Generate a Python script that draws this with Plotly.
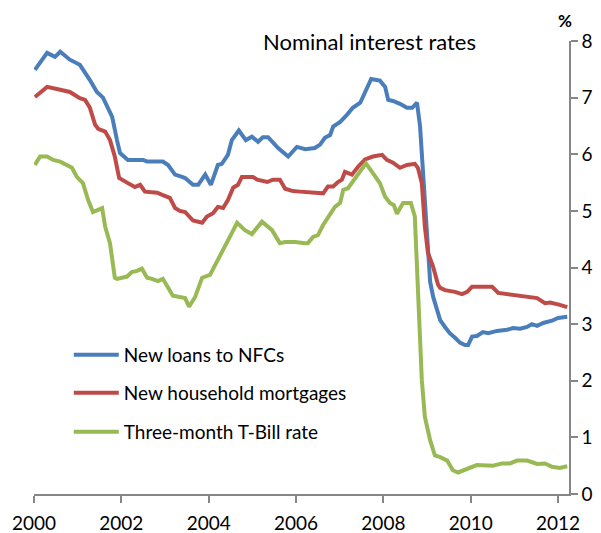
import plotly.graph_objects as go

# ---- data (decimal years, percent) ----
nfc_x = [2000.02, 2000.30, 2000.48, 2000.60, 2000.82, 2001.05, 2001.28, 2001.44, 2001.58, 2001.79,
         2001.90, 2001.97, 2002.15, 2002.50, 2002.59, 2002.95, 2003.07, 2003.23, 2003.39, 2003.46,
         2003.64, 2003.76, 2003.92, 2004.05, 2004.21, 2004.30, 2004.44, 2004.53, 2004.69, 2004.85,
         2004.99, 2005.13, 2005.24, 2005.36, 2005.59, 2005.82, 2006.02, 2006.21, 2006.43, 2006.55,
         2006.66, 2006.78, 2006.85, 2007.01, 2007.17, 2007.30, 2007.47, 2007.58, 2007.65, 2007.72,
         2007.92, 2008.04, 2008.11, 2008.22, 2008.38, 2008.54, 2008.66, 2008.77, 2008.84, 2008.91,
         2009.00, 2009.07, 2009.14, 2009.18, 2009.30, 2009.41, 2009.52, 2009.64, 2009.76, 2009.87,
         2009.94, 2010.03, 2010.14, 2010.28, 2010.40, 2010.60, 2010.83, 2010.97, 2011.13, 2011.29,
         2011.40, 2011.52, 2011.66, 2011.86, 2012.00, 2012.21]
nfc_y = [7.49, 7.79, 7.72, 7.81, 7.67, 7.58, 7.31, 7.10, 7.00, 6.66,
         6.25, 6.02, 5.90, 5.90, 5.87, 5.87, 5.81, 5.64, 5.60, 5.58,
         5.46, 5.46, 5.64, 5.46, 5.81, 5.83, 5.99, 6.25, 6.42, 6.25,
         6.31, 6.22, 6.30, 6.30, 6.11, 5.96, 6.13, 6.09, 6.11, 6.17,
         6.29, 6.34, 6.49, 6.57, 6.70, 6.82, 6.91, 7.08, 7.19, 7.33,
         7.30, 7.19, 6.96, 6.94, 6.89, 6.82, 6.82, 6.91, 6.49, 5.67,
         4.72, 3.75, 3.48, 3.37, 3.07, 2.95, 2.84, 2.76, 2.67, 2.63,
         2.63, 2.78, 2.79, 2.86, 2.84, 2.88, 2.90, 2.93, 2.92, 2.95,
         3.00, 2.97, 3.02, 3.06, 3.11, 3.13]

mort_x = [2000.02, 2000.30, 2000.60, 2000.82, 2001.05, 2001.17, 2001.28, 2001.40, 2001.47, 2001.63,
          2001.74, 2001.85, 2001.95, 2002.08, 2002.15, 2002.31, 2002.43, 2002.54, 2002.82, 2002.95,
          2003.11, 2003.23, 2003.34, 2003.46, 2003.64, 2003.85, 2003.96, 2004.10, 2004.21, 2004.33,
          2004.44, 2004.56, 2004.67, 2004.76, 2005.01, 2005.11, 2005.34, 2005.47, 2005.63, 2005.75,
          2005.93, 2006.09, 2006.32, 2006.62, 2006.73, 2006.85, 2006.96, 2007.05, 2007.12, 2007.28,
          2007.42, 2007.58, 2007.76, 2007.97, 2008.08, 2008.22, 2008.38, 2008.54, 2008.72, 2008.79,
          2008.88, 2008.95, 2009.02, 2009.14, 2009.25, 2009.30, 2009.41, 2009.64, 2009.80, 2009.92,
          2010.03, 2010.49, 2010.63, 2010.83, 2010.97, 2011.29, 2011.52, 2011.70, 2011.82, 2012.04,
          2012.21]
mort_y = [7.01, 7.19, 7.14, 7.10, 6.99, 6.96, 6.82, 6.52, 6.45, 6.40,
          6.25, 5.96, 5.58, 5.51, 5.49, 5.42, 5.46, 5.34, 5.32, 5.28,
          5.23, 5.05, 5.00, 4.98, 4.83, 4.79, 4.90, 4.96, 5.07, 5.05,
          5.19, 5.41, 5.46, 5.60, 5.60, 5.55, 5.51, 5.55, 5.55, 5.39,
          5.35, 5.34, 5.32, 5.31, 5.43, 5.43, 5.51, 5.55, 5.69, 5.64,
          5.78, 5.91, 5.96, 5.99, 5.90, 5.85, 5.76, 5.81, 5.83, 5.76,
          5.49, 4.72, 4.26, 4.01, 3.70, 3.64, 3.60, 3.57, 3.53, 3.57,
          3.66, 3.66, 3.55, 3.53, 3.50, 3.48, 3.46, 3.37, 3.38, 3.34,
          3.30]

tbill_x = [2000.02, 2000.14, 2000.30, 2000.44, 2000.60, 2000.76, 2000.87, 2000.98, 2001.12, 2001.24,
           2001.35, 2001.56, 2001.63, 2001.74, 2001.85, 2001.90, 2002.13, 2002.24, 2002.36, 2002.47,
           2002.59, 2002.70, 2002.84, 2002.95, 2003.07, 2003.18, 2003.46, 2003.55, 2003.69, 2003.85,
           2004.03, 2004.19, 2004.37, 2004.49, 2004.65, 2004.83, 2004.99, 2005.22, 2005.45, 2005.63,
           2005.75, 2005.98, 2006.21, 2006.27, 2006.39, 2006.50, 2006.62, 2006.78, 2006.89, 2007.01,
           2007.08, 2007.19, 2007.30, 2007.47, 2007.60, 2007.74, 2007.92, 2008.04, 2008.15, 2008.24,
           2008.31, 2008.45, 2008.63, 2008.72, 2008.77, 2008.82, 2008.88, 2008.95, 2009.07, 2009.18,
           2009.30, 2009.46, 2009.59, 2009.71, 2009.92, 2010.14, 2010.51, 2010.72, 2010.90, 2011.06,
           2011.29, 2011.52, 2011.70, 2011.86, 2012.04, 2012.21]
tbill_y = [5.81, 5.96, 5.96, 5.90, 5.87, 5.81, 5.76, 5.60, 5.49, 5.19,
           4.98, 5.05, 4.72, 4.43, 3.82, 3.80, 3.84, 3.92, 3.94, 3.98,
           3.82, 3.80, 3.76, 3.80, 3.64, 3.50, 3.46, 3.31, 3.48, 3.82,
           3.87, 4.10, 4.35, 4.55, 4.79, 4.66, 4.59, 4.81, 4.66, 4.43,
           4.45, 4.45, 4.43, 4.43, 4.54, 4.57, 4.75, 4.93, 5.07, 5.14,
           5.37, 5.40, 5.52, 5.69, 5.84, 5.69, 5.49, 5.25, 5.14, 5.10,
           4.95, 5.14, 5.14, 4.90, 3.90, 3.07, 2.01, 1.36, 0.95, 0.68,
           0.65, 0.59, 0.42, 0.38, 0.45, 0.51, 0.50, 0.54, 0.54, 0.59,
           0.59, 0.53, 0.54, 0.48, 0.46, 0.49]

series_names = ["New loans to NFCs", "New household mortgages", "Three-month T-Bill rate"]
series_colors = ["#4A7EBB", "#BE4B48", "#98B954"]
x_ticks = [2000, 2002, 2004, 2006, 2008, 2010, 2012]
x_ticklabels = ["2000", "2002", "2004", "2006", "2008", "2010", "2012"]
y_ticks = [0, 1, 2, 3, 4, 5, 6, 7, 8]

FONT = "Lato"
AXIS_COL = "#868686"
legend_ids = ["legend", "legend2", "legend3"]
legend_rows = [0.307, 0.223, 0.137]

fig = go.Figure()
for i, (xs, ys) in enumerate([(nfc_x, nfc_y), (mort_x, mort_y), (tbill_x, tbill_y)]):
    fig.add_trace(go.Scatter(
        x=xs, y=ys, mode="lines", name=series_names[i],
        line=dict(color=series_colors[i], width=4),
        legend=legend_ids[i], hoverinfo="skip"))

legend_style = dict(xanchor="left", yanchor="middle", bgcolor="rgba(0,0,0,0)", borderwidth=0,
                    font=dict(family=FONT, size=19, color="black"), itemwidth=45)

fig.update_layout(
    width=593, height=525,
    margin=dict(l=26, r=32, t=33, b=39, autoexpand=False),
    paper_bgcolor="white", plot_bgcolor="white",
    font=dict(family=FONT, color="black", size=19),
    showlegend=True,
    legend=dict(x=0.065, y=legend_rows[0], **legend_style),
    legend2=dict(x=0.065, y=legend_rows[1], **legend_style),
    legend3=dict(x=0.065, y=legend_rows[2], **legend_style),
    xaxis=dict(
        range=[2000, 2012.25], tickvals=x_ticks, ticktext=x_ticklabels, automargin=False,
        showgrid=False, zeroline=False, showline=True, linecolor=AXIS_COL, linewidth=1.5,
        ticks="outside", ticklen=7, tickwidth=1.5, tickcolor=AXIS_COL,
        tickfont=dict(family=FONT, size=19, color="black"), ticklabelstandoff=4,
    ),
    yaxis=dict(
        range=[0, 8], tickvals=y_ticks, side="right", automargin=False,
        showgrid=False, zeroline=False, showline=True, linecolor=AXIS_COL, linewidth=1.5,
        ticks="outside", ticklen=7, tickwidth=1.5, tickcolor=AXIS_COL,
        tickfont=dict(family=FONT, size=19, color="black"),
    ),
    annotations=[
        dict(text="Nominal interest rates", xref="paper", yref="paper",
             x=0.628, y=0.998, xanchor="center", yanchor="middle", showarrow=False,
             font=dict(family=FONT, size=22, color="black")),
        dict(text="<b>%</b>", xref="paper", yref="paper",
             x=0.9925, y=1.046, xanchor="center", yanchor="middle", showarrow=False,
             font=dict(family=FONT, size=17, color="black")),
    ],
)

fig.write_html("out.html")
